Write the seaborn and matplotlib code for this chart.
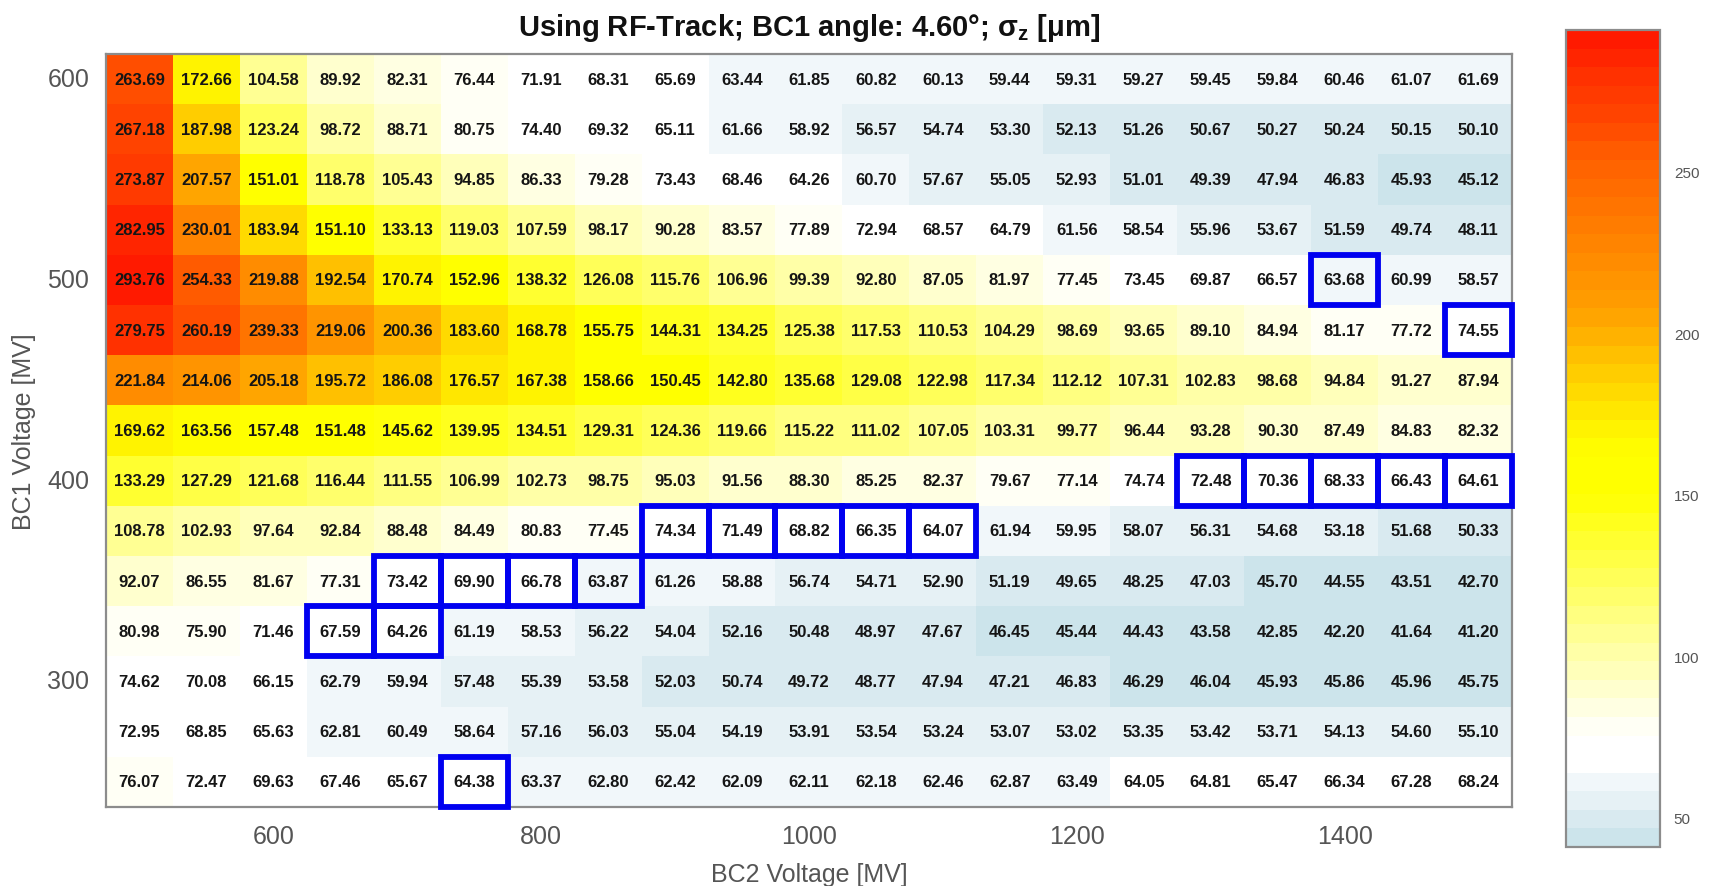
import matplotlib
matplotlib.use("Agg")
import numpy as np
import pandas as pd
import seaborn as sns
import matplotlib.pyplot as plt
from matplotlib.colors import LinearSegmentedColormap, ListedColormap
from matplotlib.patches import Rectangle

# BC2 voltage scan (columns) and BC1 voltage scan (rows, top to bottom) in MV
bc2_voltage = [500, 550, 600, 650, 700, 750, 800, 850, 900, 950, 1000,
               1050, 1100, 1150, 1200, 1250, 1300, 1350, 1400, 1450, 1500]
bc1_voltage = [600, 575, 550, 525, 500, 475, 450, 425, 400, 375, 350,
               325, 300, 275, 250]

# Bunch length sigma_z [um], one list per BC1 voltage
sigma_z = [
    [263.69, 172.66, 104.58, 89.92, 82.31, 76.44, 71.91, 68.31, 65.69, 63.44, 61.85, 60.82, 60.13, 59.44, 59.31, 59.27, 59.45, 59.84, 60.46, 61.07, 61.69],
    [267.18, 187.98, 123.24, 98.72, 88.71, 80.75, 74.40, 69.32, 65.11, 61.66, 58.92, 56.57, 54.74, 53.30, 52.13, 51.26, 50.67, 50.27, 50.24, 50.15, 50.10],
    [273.87, 207.57, 151.01, 118.78, 105.43, 94.85, 86.33, 79.28, 73.43, 68.46, 64.26, 60.70, 57.67, 55.05, 52.93, 51.01, 49.39, 47.94, 46.83, 45.93, 45.12],
    [282.95, 230.01, 183.94, 151.10, 133.13, 119.03, 107.59, 98.17, 90.28, 83.57, 77.89, 72.94, 68.57, 64.79, 61.56, 58.54, 55.96, 53.67, 51.59, 49.74, 48.11],
    [293.76, 254.33, 219.88, 192.54, 170.74, 152.96, 138.32, 126.08, 115.76, 106.96, 99.39, 92.80, 87.05, 81.97, 77.45, 73.45, 69.87, 66.57, 63.68, 60.99, 58.57],
    [279.75, 260.19, 239.33, 219.06, 200.36, 183.60, 168.78, 155.75, 144.31, 134.25, 125.38, 117.53, 110.53, 104.29, 98.69, 93.65, 89.10, 84.94, 81.17, 77.72, 74.55],
    [221.84, 214.06, 205.18, 195.72, 186.08, 176.57, 167.38, 158.66, 150.45, 142.80, 135.68, 129.08, 122.98, 117.34, 112.12, 107.31, 102.83, 98.68, 94.84, 91.27, 87.94],
    [169.62, 163.56, 157.48, 151.48, 145.62, 139.95, 134.51, 129.31, 124.36, 119.66, 115.22, 111.02, 107.05, 103.31, 99.77, 96.44, 93.28, 90.30, 87.49, 84.83, 82.32],
    [133.29, 127.29, 121.68, 116.44, 111.55, 106.99, 102.73, 98.75, 95.03, 91.56, 88.30, 85.25, 82.37, 79.67, 77.14, 74.74, 72.48, 70.36, 68.33, 66.43, 64.61],
    [108.78, 102.93, 97.64, 92.84, 88.48, 84.49, 80.83, 77.45, 74.34, 71.49, 68.82, 66.35, 64.07, 61.94, 59.95, 58.07, 56.31, 54.68, 53.18, 51.68, 50.33],
    [92.07, 86.55, 81.67, 77.31, 73.42, 69.90, 66.78, 63.87, 61.26, 58.88, 56.74, 54.71, 52.90, 51.19, 49.65, 48.25, 47.03, 45.70, 44.55, 43.51, 42.70],
    [80.98, 75.90, 71.46, 67.59, 64.26, 61.19, 58.53, 56.22, 54.04, 52.16, 50.48, 48.97, 47.67, 46.45, 45.44, 44.43, 43.58, 42.85, 42.20, 41.64, 41.20],
    [74.62, 70.08, 66.15, 62.79, 59.94, 57.48, 55.39, 53.58, 52.03, 50.74, 49.72, 48.77, 47.94, 47.21, 46.83, 46.29, 46.04, 45.93, 45.86, 45.96, 45.75],
    [72.95, 68.85, 65.63, 62.81, 60.49, 58.64, 57.16, 56.03, 55.04, 54.19, 53.91, 53.54, 53.24, 53.07, 53.02, 53.35, 53.42, 53.71, 54.13, 54.60, 55.10],
    [76.07, 72.47, 69.63, 67.46, 65.67, 64.38, 63.37, 62.80, 62.42, 62.09, 62.11, 62.18, 62.46, 62.87, 63.49, 64.05, 64.81, 65.47, 66.34, 67.28, 68.24],
]

# Working points highlighted with a frame (BC2, BC1)
marked_bc2 = [1400, 1500, 1300, 1350, 1400, 1450, 1500, 900, 950, 1000, 1050, 1100,
              700, 750, 800, 850, 650, 700, 750]
marked_bc1 = [500, 475, 400, 400, 400, 400, 400, 375, 375, 375, 375, 375,
              350, 350, 350, 350, 325, 325, 250]

x_ticks = [600, 800, 1000, 1200, 1400]
y_ticks = [300, 400, 500, 600]
cbar_ticks = [50, 100, 150, 200, 250]

df = pd.DataFrame(sigma_z, index=bc1_voltage, columns=bc2_voltage)
vmin, vmax = 41.0, float(df.values.max())
n_levels = 44

# Light blue -> white -> yellow -> orange -> red, sampled into discrete levels
nodes = [(41.0, "#c8e2ea"), (44.0, "#cce4eb"), (49.6, "#d9eaf0"), (55.4, "#e6f1f5"),
         (61.1, "#f1f7fa"), (63.9, "#f6fafc"), (64.0, "#ffffff"), (75.4, "#ffffff"),
         (150.0, "#ffff00"), (163.0, "#ffff00"), (172.0, "#fff000"), (188.0, "#ffcc00"),
         (207.0, "#ffa000"), (222.0, "#ff8c00"), (235.0, "#ff7a00"), (255.0, "#ff5e00"),
         (265.0, "#ff4800"), (280.0, "#ff3000"), (293.76, "#ff1400")]
base = LinearSegmentedColormap.from_list(
    "sigma_base", [((v - vmin) / (vmax - vmin), c) for v, c in nodes], N=1024)
step = (vmax - vmin) / n_levels
centers = vmin + step * (np.arange(n_levels) + 0.5)
cmap = ListedColormap(base((centers - vmin) / (vmax - vmin)), name="sigma")

sns.set_theme(style="white")
plt.rcParams["font.family"] = ["Liberation Sans", "DejaVu Sans"]
plt.rcParams["mathtext.default"] = "regular"

fig = plt.figure(figsize=(17.09, 8.87), dpi=100)
ax = fig.add_axes([0.0620, 0.0891, 0.8227, 0.8489])
cax = fig.add_axes([0.9163, 0.0440, 0.0550, 0.9211])

sns.heatmap(df, ax=ax, cmap=cmap, vmin=vmin, vmax=vmax, annot=True, fmt=".2f",
            annot_kws={"color": "#151515", "fontsize": 12, "fontweight": "bold"},
            cbar_ax=cax, cbar_kws={"ticks": cbar_ticks})

# Frames around the highlighted working points
for xv, yv in zip(marked_bc2, marked_bc1):
    i = bc2_voltage.index(xv)
    j = bc1_voltage.index(yv)
    ax.add_patch(Rectangle((i, j), 1, 1, fill=False, edgecolor="#0000f0",
                           linewidth=4.2, clip_on=False, zorder=5))

# Numeric axes positions
ax.set_xticks([(v - bc2_voltage[0]) / 50 + 0.5 for v in x_ticks])
ax.set_xticklabels([str(v) for v in x_ticks], rotation=0)
ax.set_yticks([bc1_voltage.index(v) + 0.5 for v in y_ticks])
ax.set_yticklabels([str(v) for v in y_ticks], rotation=0)
ax.tick_params(axis="both", direction="in", length=6, width=1, color="#333333",
               top=True, right=True, bottom=True, left=True,
               labelsize=18, labelcolor="#555555", pad=12)
for s in ax.spines.values():
    s.set_visible(True)
    s.set_color("#8c8c8c")
    s.set_linewidth(1.6)

ax.set_xlabel("BC2 Voltage [MV]", fontsize=18, color="#555555", labelpad=10)
ax.set_ylabel("BC1 Voltage [MV]", fontsize=18, color="#555555", labelpad=8)
ax.set_title("Using RF-Track; BC1 angle: 4.60°; σ$_z$ [μm]", fontsize=21,
             fontweight="bold", color="#111111", pad=14)

cax.tick_params(direction="in", length=6, width=1, color="#333333", left=True,
                right=True, labelsize=11, labelcolor="#555555", pad=10)
cbar = ax.collections[0].colorbar
cbar.outline.set_edgecolor("#8c8c8c")
cbar.outline.set_linewidth(1.6)

fig.savefig("out.png", dpi=100)
